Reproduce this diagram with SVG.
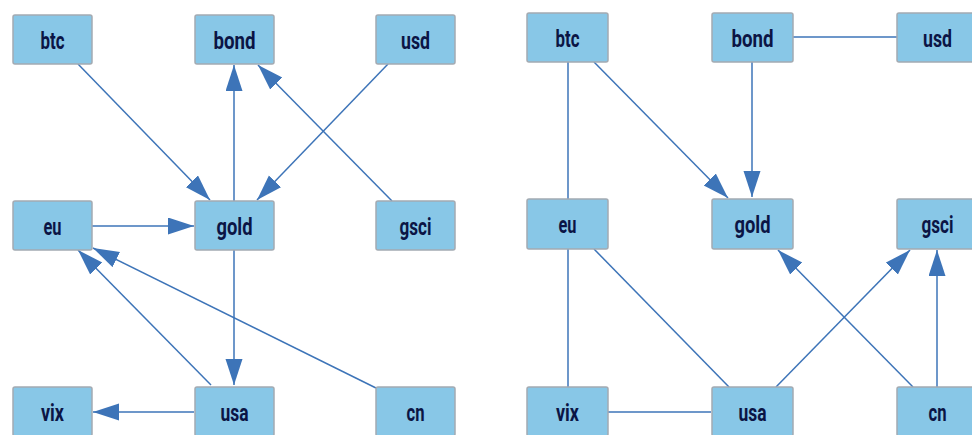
<svg xmlns="http://www.w3.org/2000/svg" width="972" height="435" viewBox="0 0 972 435">
<defs>
<style>
.box{fill:#88c7e7;stroke:#a3aab2;stroke-width:1.5}
.lbl{font-family:Roboto,"Liberation Sans",sans-serif;font-weight:bold;font-size:23px;fill:#0b1545;text-anchor:middle}
.e{stroke:#3d74b8;stroke-width:1.5;fill:none}
.a{marker-end:url(#arr)}
</style>
<marker id="arr" markerUnits="userSpaceOnUse" markerWidth="28" markerHeight="18" refX="26" refY="8.5" orient="auto">
<path d="M0,0 L26,8.5 L0,17 z" fill="#3d74b8"/>
</marker>
</defs>
<rect width="972" height="435" fill="#ffffff"/>
<g id="connectors">
<path class="e a" d="M78,64 L210,200"/>
<path class="e a" d="M234,201 L234,65"/>
<path class="e a" d="M392,201 L258,65"/>
<path class="e a" d="M388,64 L257,200"/>
<path class="e a" d="M92,226 L194,226"/>
<path class="e a" d="M234,250 L234,385"/>
<path class="e a" d="M211,385 L78,250"/>
<path class="e a" d="M376,388 L93,248"/>
<path class="e a" d="M194,412 L93,412"/>
<path class="e" d="M568,62 L568,199"/>
<path class="e a" d="M594,62 L728,198"/>
<path class="e" d="M793,37 L897,37"/>
<path class="e a" d="M752,62 L752,197"/>
<path class="e" d="M568,249 L568,387"/>
<path class="e" d="M594,249 L729,387"/>
<path class="e" d="M608,412 L711,412"/>
<path class="e a" d="M776,387 L910,250"/>
<path class="e a" d="M913,387 L778,250"/>
<path class="e a" d="M937,387 L937,250"/>
</g>
<g id="L_btc"><rect class="box" x="13" y="15" width="79" height="49" rx="2"/><text class="lbl" x="52.5" y="49" textLength="24" lengthAdjust="spacingAndGlyphs">btc</text></g>
<g id="L_bond"><rect class="box" x="195" y="15" width="79" height="49" rx="2"/><text class="lbl" x="234.5" y="49" textLength="42" lengthAdjust="spacingAndGlyphs">bond</text></g>
<g id="L_usd"><rect class="box" x="376" y="15" width="79" height="49" rx="2"/><text class="lbl" x="415.5" y="49" textLength="29" lengthAdjust="spacingAndGlyphs">usd</text></g>
<g id="L_eu"><rect class="box" x="13" y="201" width="79" height="49" rx="2"/><text class="lbl" x="52.5" y="235" textLength="18" lengthAdjust="spacingAndGlyphs">eu</text></g>
<g id="L_gold"><rect class="box" x="195" y="201" width="79" height="49" rx="2"/><text class="lbl" x="234.5" y="235" textLength="36" lengthAdjust="spacingAndGlyphs">gold</text></g>
<g id="L_gsci"><rect class="box" x="376" y="201" width="79" height="49" rx="2"/><text class="lbl" x="415.5" y="235" textLength="32" lengthAdjust="spacingAndGlyphs">gsci</text></g>
<g id="L_vix"><rect class="box" x="13" y="387" width="79" height="49" rx="2"/><text class="lbl" x="52.5" y="421" textLength="23" lengthAdjust="spacingAndGlyphs">vix</text></g>
<g id="L_usa"><rect class="box" x="195" y="387" width="79" height="49" rx="2"/><text class="lbl" x="234.5" y="421" textLength="28" lengthAdjust="spacingAndGlyphs">usa</text></g>
<g id="L_cn"><rect class="box" x="376" y="387" width="79" height="49" rx="2"/><text class="lbl" x="415.5" y="421" textLength="18" lengthAdjust="spacingAndGlyphs">cn</text></g>
<g id="R_btc"><rect class="box" x="527" y="13" width="81" height="49" rx="2"/><text class="lbl" x="567.5" y="47" textLength="24" lengthAdjust="spacingAndGlyphs">btc</text></g>
<g id="R_bond"><rect class="box" x="712" y="13" width="81" height="49" rx="2"/><text class="lbl" x="752.5" y="47" textLength="42" lengthAdjust="spacingAndGlyphs">bond</text></g>
<g id="R_usd"><rect class="box" x="897" y="13" width="81" height="49" rx="2"/><text class="lbl" x="937.5" y="47" textLength="29" lengthAdjust="spacingAndGlyphs">usd</text></g>
<g id="R_eu"><rect class="box" x="527" y="199" width="81" height="50" rx="2"/><text class="lbl" x="567.5" y="233" textLength="18" lengthAdjust="spacingAndGlyphs">eu</text></g>
<g id="R_gold"><rect class="box" x="712" y="199" width="81" height="50" rx="2"/><text class="lbl" x="752.5" y="233" textLength="36" lengthAdjust="spacingAndGlyphs">gold</text></g>
<g id="R_gsci"><rect class="box" x="897" y="199" width="81" height="50" rx="2"/><text class="lbl" x="937.5" y="233" textLength="32" lengthAdjust="spacingAndGlyphs">gsci</text></g>
<g id="R_vix"><rect class="box" x="527" y="387" width="81" height="49" rx="2"/><text class="lbl" x="567.5" y="421" textLength="23" lengthAdjust="spacingAndGlyphs">vix</text></g>
<g id="R_usa"><rect class="box" x="712" y="387" width="81" height="49" rx="2"/><text class="lbl" x="752.5" y="421" textLength="28" lengthAdjust="spacingAndGlyphs">usa</text></g>
<g id="R_cn"><rect class="box" x="897" y="387" width="81" height="49" rx="2"/><text class="lbl" x="937.5" y="421" textLength="18" lengthAdjust="spacingAndGlyphs">cn</text></g>
</svg>
